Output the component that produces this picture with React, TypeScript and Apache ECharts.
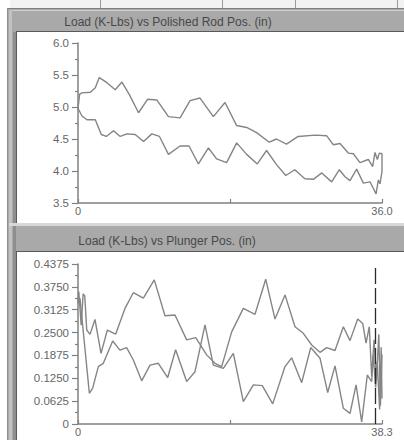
import React, { useEffect, useRef } from "react";
import * as echarts from "echarts";

// ---------- data ----------
const rodTitle = "Load (K-Lbs) vs Polished Rod Pos. (in)";
const plungerTitle = "Load (K-Lbs) vs Plunger Pos. (in)";

const rodXLabels = ["0", "36.0"];
const plungerXLabels = ["0", "38.3"];

// upstroke (upper) curve of the surface card
const rodUpper: [number, number][] = [
  [0, 4.98], [0.2, 5.2], [0.47, 5.22], [1.46, 5.23], [2.05, 5.3], [2.52, 5.46],
  [3.43, 5.38], [4.41, 5.27], [5.2, 5.39], [6.1, 5.19], [7.17, 4.91], [8.23, 5.12],
  [9.33, 5.11], [10.71, 4.85], [12.09, 4.83], [13.27, 5.1], [14.45, 5.14],
  [16.03, 4.85], [17.41, 5.07], [18.79, 4.71], [19.97, 4.68], [21.15, 4.6],
  [22.65, 4.45], [23.51, 4.5], [24.69, 4.42], [26.07, 4.54], [28.07, 4.56],
  [29.45, 4.55], [30.24, 4.41], [31.03, 4.43], [32.01, 4.28], [32.61, 4.27],
  [33.39, 4.13], [34.38, 4.18], [34.89, 4.07], [35.17, 4.29], [35.45, 4.18],
  [35.68, 4.28], [36.0, 4.27], [36.0, 3.99],
];

// downstroke (lower) curve of the surface card
const rodLower: [number, number][] = [
  [0, 4.98], [0.47, 4.86], [1.06, 4.8], [2.05, 4.8], [2.76, 4.57], [3.35, 4.54],
  [4.21, 4.63], [5.0, 4.54], [5.79, 4.58], [6.77, 4.57], [7.76, 4.46], [8.74, 4.58],
  [9.65, 4.54], [10.71, 4.26], [12.09, 4.39], [13.15, 4.39], [14.26, 4.11],
  [15.44, 4.36], [16.42, 4.19], [17.6, 4.13], [18.79, 4.44], [19.97, 4.26],
  [21.23, 4.11], [22.33, 4.32], [23.51, 4.1], [24.61, 3.93], [25.67, 4.02],
  [26.86, 3.88], [27.87, 3.87], [28.86, 3.97], [30.04, 3.83], [30.95, 4.02],
  [31.62, 3.91], [32.21, 3.85], [33.0, 4.03], [33.79, 3.81], [34.58, 3.83],
  [34.97, 3.73], [35.29, 3.64], [35.57, 3.86], [35.76, 3.8], [36.0, 3.99],
];

// plunger (downhole) card, first curve
const plungerA: [number, number][] = [
  [0, 0.33], [0.1, 0.362], [0.4, 0.27], [0.65, 0.356], [0.85, 0.35], [1.1, 0.257],
  [1.51, 0.245], [2.14, 0.286], [2.9, 0.193], [3.7, 0.257], [4.75, 0.246],
  [5.92, 0.316], [6.97, 0.359], [8.23, 0.344], [9.61, 0.394], [10.96, 0.296],
  [12.22, 0.298], [13.69, 0.23], [14.83, 0.236], [16.21, 0.189], [17.26, 0.166],
  [18.1, 0.157], [19.36, 0.252], [20.83, 0.316], [22.3, 0.3], [23.65, 0.396],
  [24.82, 0.287], [26.08, 0.353], [27.34, 0.266], [28.39, 0.248], [29.44, 0.216],
  [30.49, 0.196], [31.33, 0.209], [32.38, 0.201], [33.43, 0.266], [34.27, 0.228],
  [35.24, 0.287], [35.87, 0.275], [36.29, 0.221], [36.7, 0.266], [37.0, 0.13],
  [37.3, 0.23], [37.6, 0.12], [37.9, 0.245], [38.1, 0.05], [38.3, 0.19],
];

// plunger (downhole) card, second curve
const plungerB: [number, number][] = [
  [0, 0.33], [0.25, 0.344], [1.43, 0.084], [1.85, 0.098], [2.56, 0.157],
  [3.19, 0.166], [4.37, 0.227], [5.29, 0.202], [6.13, 0.209], [6.97, 0.175],
  [8.02, 0.118], [9.07, 0.161], [10.12, 0.166], [11.3, 0.127], [12.3, 0.203],
  [13.69, 0.116], [14.74, 0.143], [16.0, 0.271], [17.05, 0.161], [18.31, 0.152],
  [19.57, 0.193], [20.83, 0.061], [22.09, 0.107], [23.22, 0.105], [24.53, 0.055],
  [26.08, 0.157], [26.92, 0.181], [28.18, 0.113], [29.32, 0.209], [30.49, 0.18],
  [31.46, 0.086], [32.38, 0.159], [33.43, 0.043], [34.27, 0.029], [35.03, 0.107],
  [35.74, 0.006], [36.45, 0.134], [37.0, 0.116], [37.2, 0.19], [37.5, 0.1],
  [37.7, 0.17], [38.0, 0.04], [38.2, 0.21], [38.3, 0.07],
];

const plungerMarkerX = 37.45;

const FONT = "'Liberation Sans', Arial, sans-serif";
const CURVE = "#858585";
const AXIS = "#808080";
const LABEL = "#666666";
const PANEL = "#a9a9a9";

export default function App() {
  const ref = useRef<HTMLDivElement>(null);

  useEffect(() => {
    document.body.style.margin = "0";
    document.body.style.overflow = "hidden";
    if (!ref.current) return;
    const chart = echarts.init(ref.current, null, { renderer: "svg" });

    const xAxisBase = (max: number, interval: number, labels: string[]) => ({
      type: "value",
      min: 0,
      max,
      interval,
      axisLine: { show: true, onZero: false, lineStyle: { color: AXIS, width: 1.5 } },
      axisTick: { show: true, inside: true, length: 4, lineStyle: { color: AXIS, width: 1.2 } },
      axisLabel: {
        show: true,
        showMinLabel: true,
        showMaxLabel: true,
        margin: 2,
        color: LABEL,
        fontSize: 11,
        fontFamily: FONT,
        formatter: (v: number) =>
          Math.abs(v) < 1e-9 ? labels[0] : Math.abs(v - max) < 1e-6 ? labels[1] : "",
      },
      splitLine: { show: false },
    });

    const yAxisBase = (min: number, max: number, interval: number, fmt: (v: number) => string) => ({
      type: "value",
      min,
      max,
      interval,
      axisLine: { show: true, onZero: false, lineStyle: { color: AXIS, width: 1.5 } },
      axisTick: { show: true, inside: false, length: 6, lineStyle: { color: AXIS, width: 1.2 } },
      minorTick: { show: true, splitNumber: 2, length: 3, lineStyle: { color: AXIS, width: 1.2 } },
      axisLabel: { margin: 9, color: LABEL, fontSize: 11.5, fontFamily: FONT, formatter: fmt },
      splitLine: { show: false },
      minorSplitLine: { show: false },
    });

    const curve = (data: [number, number][], idx: number, extra: any = {}) => ({
      type: "line",
      xAxisIndex: idx,
      yAxisIndex: idx,
      data,
      symbol: "none",
      showSymbol: false,
      silent: true,
      lineStyle: { color: CURVE, width: 1.4 },
      z: 3,
      ...extra,
    });

    const bg = (x: number, y: number, w: number, h: number, fill: string) => ({
      type: "rect",
      z: -10,
      silent: true,
      shape: { x, y, width: w, height: h },
      style: { fill },
    });

    chart.setOption({
      animation: false,
      backgroundColor: "#ffffff",
      graphic: {
        elements: [
          // top tab strip
          bg(10, 0, 394, 8, "#f2f2f2"),
          bg(100, 0, 1, 8, "#9a9a9a"),
          bg(222, 0, 1, 8, "#9a9a9a"),
          bg(295, 0, 1, 8, "#9a9a9a"),
          bg(397, 0, 1, 8, "#9a9a9a"),
          // gray frame
          bg(7, 8, 397, 432, PANEL),
          bg(7, 8, 397, 1, "#7e7e7e"),
          bg(7, 8, 1, 432, "#8e8e8e"),
          bg(9, 10, 395, 1, "#d2d2d2"),
          bg(9, 10, 3, 430, "#c2c2c2"),
          bg(13, 32, 3, 408, "#8e8e8e"),
          // white plot area 1
          bg(16, 31, 388, 1, "#5a5a5a"),
          bg(16, 31, 1, 192, "#5a5a5a"),
          bg(17, 32, 387, 191, "#ffffff"),
          bg(9, 223, 395, 3, "#d8d8d8"),
          // white plot area 2
          bg(16, 251, 388, 1, "#5a5a5a"),
          bg(16, 251, 1, 189, "#5a5a5a"),
          bg(17, 252, 387, 188, "#ffffff"),
          {
            type: "text",
            z: 10,
            silent: true,
            x: 168,
            y: 22,
            style: {
              text: rodTitle,
              fill: "#484848",
              font: `12px ${FONT}`,
              align: "center",
              verticalAlign: "middle",
            },
          },
          {
            type: "text",
            z: 10,
            silent: true,
            x: 167,
            y: 241,
            style: {
              text: plungerTitle,
              fill: "#484848",
              font: `12px ${FONT}`,
              align: "center",
              verticalAlign: "middle",
            },
          },
        ],
      },
      grid: [
        { left: 78, top: 43, width: 304, height: 160, containLabel: false },
        { left: 78, top: 264, width: 304, height: 160, containLabel: false },
      ],
      xAxis: [
        { gridIndex: 0, ...xAxisBase(36, 18, rodXLabels) },
        { gridIndex: 1, ...xAxisBase(38.3, 19.15, plungerXLabels) },
      ],
      yAxis: [
        { gridIndex: 0, ...yAxisBase(3.5, 6.0, 0.5, (v: number) => v.toFixed(1)) },
        {
          gridIndex: 1,
          ...yAxisBase(0, 0.4375, 0.0625, (v: number) => (Math.abs(v) < 1e-9 ? "0" : v.toFixed(4))),
        },
      ],
      series: [
        curve(rodUpper, 0),
        curve(rodLower, 0),
        curve(plungerA, 1, {
          markLine: {
            silent: true,
            symbol: ["none", "none"],
            label: { show: false },
            lineStyle: { color: "#2a2a2a", type: [16, 4], width: 1.3 },
            data: [{ xAxis: plungerMarkerX }],
          },
        }),
        curve(plungerB, 1),
      ],
    });

    return () => chart.dispose();
  }, []);

  return <div ref={ref} style={{ width: 404, height: 440 }} />;
}
